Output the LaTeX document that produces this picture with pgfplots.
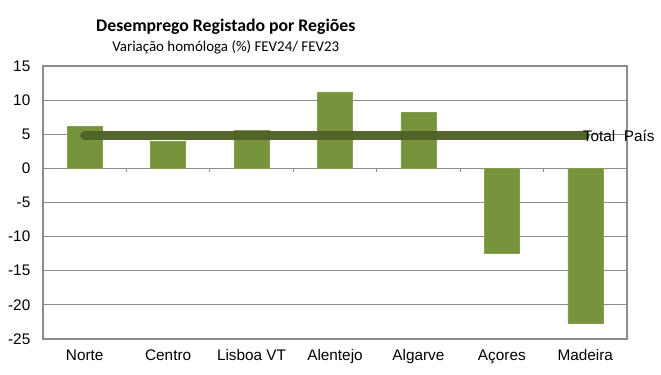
\documentclass[border=0pt]{standalone}
\usepackage{pgfplots}
\pgfplotsset{compat=1.18}
\usepackage{fontspec}
\setmainfont{Liberation Sans}
\newfontfamily\carlito{Carlito}
\definecolor{barg}{HTML}{77933C}
\definecolor{lineg}{HTML}{4F6228}
\definecolor{gridg}{HTML}{8C8C8C}
\begin{document}
\begin{tikzpicture}[x=1pt,y=1pt]
\path[use as bounding box] (-32.25,-27) rectangle (463.5,254.25);
\begin{axis}[
  at={(0,0)}, anchor=south west,
  scale only axis, width=438pt, height=204.75pt,
  xmin=-0.5, xmax=6.5, ymin=-25, ymax=15,
  ytick={-25,-20,...,15},
  xtick={0,1,2,3,4,5,6},
  xticklabels={Norte,Centro,Lisboa VT,Alentejo,Algarve,Açores,Madeira},
  xtick style={draw=none}, ytick style={draw=none},
  ymajorgrids, grid style={gridg, line width=0.9pt},
  axis line style={gridg, line width=0.9pt},
  /pgf/number format/assume math mode=true,
  tick label style={font=\fontsize{11.5}{13}\selectfont, text=black},
  yticklabel style={xshift=-6pt},
  xticklabel style={yshift=-4.5pt},
  clip=false,
]
\addplot[ybar, bar width=26.25pt, fill=barg, draw=barg!90!white, bar shift=0pt]
  coordinates {(0,6.2) (1,4.0) (2,5.6) (3,11.2) (4,8.2) (5,-12.4) (6,-22.7)};
\addplot[lineg, line width=6.75pt, line cap=round, opacity=0.97]
  coordinates {(0,4.8) (1,4.8) (2,4.8) (3,4.8) (4,4.8) (5,4.8) (6,4.8)};
\pgfplotsinvokeforeach{0.5,1.5,2.5,3.5,4.5,5.5}{
  \draw[gridg, line width=0.9pt] (axis cs:#1,0) -- ++(0pt,-3pt);
}
\node[anchor=west, inner sep=0pt, font=\fontsize{11.5}{13}\selectfont] at (axis cs:6,4.8) {\hspace{-2pt}Total\ \ País};
\node[font=\carlito\bfseries\fontsize{13.3}{15}\selectfont] at (rel axis cs:0.313,1.145) {Desemprego Registado por Regiões};
\node[font=\carlito\fontsize{11.2}{13}\selectfont] at (rel axis cs:0.313,1.067) {Variação homóloga (\%) FEV24/ FEV23};
\end{axis}
\end{tikzpicture}
\end{document}
